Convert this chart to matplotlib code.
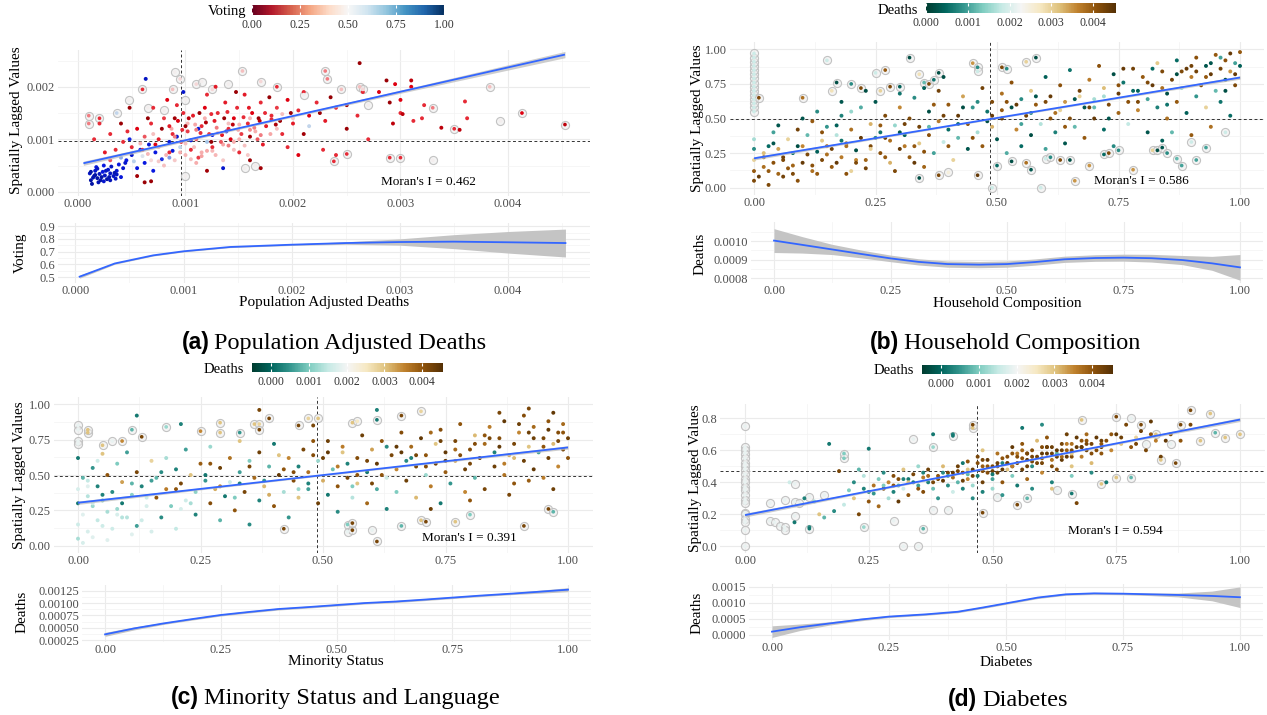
import numpy as np
import matplotlib
matplotlib.use("Agg")
import matplotlib.pyplot as plt
from matplotlib.colors import LinearSegmentedColormap, Normalize
from matplotlib.cm import ScalarMappable
from matplotlib.ticker import FormatStrFormatter

plt.rcParams['font.family'] = ['Liberation Serif', 'DejaVu Serif']

# ---------------- Panel (a): Population Adjusted Deaths, colour = Voting ----------------
a_x = [0.00012,0.00015,0.00018,0.00020,0.00022,0.00025,0.00027,0.00030,0.00016,0.00013,0.00019,0.00023,0.00028,0.00033,0.00036,0.00011,0.00024,0.00031,0.00038,0.00042,0.00017,0.00021,0.00029,0.00014,0.00035,
       0.00045,0.00050,0.00058,0.00062,0.00066,0.00072,0.00078,0.00085,0.00092,0.00105,0.00112,0.00125,0.00138,0.00063,0.00098,0.00070,0.00048,0.00055,0.00088,0.00135,
       0.00040,0.00052,0.00060,0.00068,0.00075,0.00082,0.00090,0.00095,0.00100,0.00108,0.00115,0.00120,0.00128,0.00135,0.00145,0.00150,0.00158,0.00165,0.00080,0.00110,0.00058,0.00070,0.00087,0.00102,0.00118,0.00140,0.00160,0.00185,0.00200,0.00215,
       0.00050,0.00055,0.00062,0.00068,0.00075,0.00080,0.00088,0.00093,0.00098,0.00102,
       0.00107,0.00110,0.00115,0.00118,0.00122,0.00127,0.00130,0.00133,0.00137,0.00140,
       0.00145,0.00148,0.00152,0.00155,0.00158,0.00162,0.00167,0.00170,0.00175,0.00180,
       0.00185,0.00190,0.00195,0.00200,0.00205,0.00210,0.00215,0.00222,0.00230,0.00240,
       0.00060,0.00072,0.00085,0.00096,0.00105,0.00112,0.00125,0.00142,0.00150,0.00172,
       0.00030,0.00035,0.00042,0.00025,0.00046,0.00070,0.00083,0.00092,0.00120,0.00128,
       0.00040,0.00048,0.00065,0.00078,0.00090,0.00100,0.00113,0.00124,0.00136,0.00147,0.00160,0.00168,0.00178,0.00188,0.00198,0.00210,0.00225,0.00235,0.00250,0.00055,0.00062,0.00068,0.00160,0.00170,0.00120,
       0.00260,0.00270,0.00280,0.00290,0.00300,0.00310,0.00320,0.00250,0.00265,0.00228,0.00195,0.00205,0.00240,0.00030,0.00015,0.00020,
       0.00262,0.00310,0.00287,0.00295,0.00355,0.00338,0.00360,0.00362,0.00302,0.00293,0.00312,0.00322,0.00300,
       0.00085,0.00090,0.00097,0.00103,0.00109,0.00114,0.00119,0.00124,0.00129,0.00134,
       0.00139,0.00144,0.00149,0.00154,0.00159,0.00164,0.00169,0.00174,0.00179,0.00184,
       0.00100,0.00110,0.00120,0.00130,0.00140,0.00150,0.00160,0.00170,0.00180,0.00190,
       0.00012,0.00018,0.00024,0.00030,0.00036,0.00040,0.00016,0.00026,0.00034,0.00044,
       0.00065,0.00075,0.00085,0.00095,0.00105,0.00115,0.00125,0.00135,0.00145,0.00155]
a_y = [0.00022,0.00030,0.00026,0.00034,0.00028,0.00031,0.00024,0.00035,0.00040,0.00015,0.00018,0.00038,0.00042,0.00030,0.00040,0.00035,0.00050,0.00048,0.00052,0.00045,0.00047,0.00022,0.00028,0.00027,0.00025,
       0.00060,0.00070,0.00080,0.00055,0.00090,0.00075,0.00062,0.00095,0.00105,0.00098,0.00120,0.00108,0.00115,0.00215,0.00190,0.00040,0.00100,0.00045,0.00078,0.00045,
       0.00065,0.00058,0.00068,0.00060,0.00085,0.00070,0.00060,0.00085,0.00070,0.00085,0.00075,0.00095,0.00070,0.00090,0.00080,0.00100,0.00070,0.00115,0.00050,0.00055,0.00092,0.00110,0.00120,0.00130,0.00140,0.00130,0.00140,0.00120,0.00140,0.00125,
       0.00085,0.00120,0.00105,0.00130,0.00100,0.00140,0.00110,0.00135,0.00150,0.00115,
       0.00145,0.00100,0.00125,0.00160,0.00110,0.00135,0.00150,0.00095,0.00170,0.00120,
       0.00140,0.00160,0.00110,0.00185,0.00130,0.00150,0.00100,0.00170,0.00125,0.00145,
       0.00160,0.00110,0.00175,0.00130,0.00155,0.00190,0.00145,0.00170,0.00135,0.00160,
       0.00080,0.00090,0.00075,0.00095,0.00080,0.00065,0.00085,0.00100,0.00075,0.00090,
       0.00060,0.00080,0.00095,0.00075,0.00115,0.00160,0.00175,0.00165,0.00185,0.00200,
       0.00130,0.00160,0.00140,0.00120,0.00140,0.00125,0.00150,0.00095,0.00140,0.00190,0.00105,0.00140,0.00180,0.00135,0.00150,0.00110,0.00150,0.00180,0.00165,0.00030,0.00018,0.00020,0.00060,0.00045,0.00040,
       0.00145,0.00100,0.00190,0.00170,0.00150,0.00200,0.00140,0.00120,0.00190,0.00080,0.00085,0.00070,0.00070,0.00110,0.00100,0.00130,
       0.00245,0.00212,0.00212,0.00205,0.00118,0.00122,0.00172,0.00140,0.00148,0.00130,0.00135,0.00165,0.00175,
       0.00125,0.00105,0.00118,0.00140,0.00128,0.00112,0.00132,0.00148,0.00122,0.00108,
       0.00152,0.00128,0.00118,0.00142,0.00160,0.00122,0.00135,0.00150,0.00110,0.00128,
       0.00092,0.00118,0.00078,0.00112,0.00088,0.00128,0.00118,0.00108,0.00138,0.00148,
       0.00038,0.00044,0.00020,0.00022,0.00033,0.00028,0.00032,0.00040,0.00036,0.00055,
       0.00072,0.00058,0.00065,0.00075,0.00062,0.00068,0.00078,0.00060,0.00095,0.00088]
a_voting = [0.95,0.9,0.95,0.9,0.95,0.9,0.95,0.9,0.88,0.95,0.92,0.85,0.88,0.9,0.87,0.9,0.85,0.9,0.85,0.88,0.86,0.95,0.93,0.93,0.9,
            0.85,0.88,0.86,0.85,0.87,0.85,0.82,0.86,0.88,0.85,0.86,0.84,0.85,0.9,0.88,0.85,0.83,0.85,0.86,0.88,
            0.68,0.62,0.55,0.45,0.40,0.38,0.42,0.60,0.38,0.40,0.36,0.65,0.38,0.35,0.40,0.37,0.42,0.36,0.40,0.36,0.38,0.40,0.35,0.38,0.36,0.40,0.38,0.40,0.42,0.60,
            0.2,0.15,0.25,0.2,0.18,0.22,0.2,0.15,0.2,0.22,
            0.18,0.25,0.2,0.15,0.22,0.18,0.2,0.25,0.18,0.2,
            0.15,0.2,0.22,0.18,0.2,0.15,0.25,0.2,0.18,0.2,
            0.22,0.2,0.15,0.18,0.2,0.2,0.15,0.2,0.18,0.2,
            0.2,0.15,0.2,0.18,0.2,0.22,0.2,0.15,0.2,0.18,
            0.25,0.2,0.2,0.18,0.2,0.2,0.15,0.2,0.2,0.18,
            0.05,0.05,0.04,0.05,0.06,0.05,0.05,0.04,0.05,0.05,0.06,0.05,0.04,0.05,0.05,0.06,0.05,0.04,0.05,0.06,0.05,0.05,0.05,0.06,0.06,
            0.2,0.2,0.15,0.05,0.2,0.15,0.2,0.05,0.2,0.2,0.2,0.15,0.2,0.2,0.2,0.2,
            0.05,0.1,0.05,0.15,0.1,0.1,0.2,0.2,0.1,0.1,0.2,0.2,0.15,
            0.18,0.3,0.2,0.1,0.35,0.2,0.08,0.2,0.3,0.18,
            0.2,0.1,0.35,0.2,0.18,0.3,0.1,0.2,0.35,0.08,
            0.4,0.3,0.35,0.42,0.3,0.38,0.32,0.3,0.2,0.4,
            0.95,0.9,0.88,0.92,0.9,0.86,0.95,0.9,0.93,0.88,
            0.38,0.42,0.7,0.36,0.4,0.34,0.38,0.42,0.36,0.4]
a_ring_x = [0.00010,0.00010,0.00020,0.00036,0.00047,0.00060,0.00065,0.00080,0.00088,0.00090,
            0.00095,0.00100,0.00110,0.00115,0.00125,0.00140,0.00153,0.00170,0.00185,0.00210,
            0.00230,0.00232,0.00245,0.00262,0.00265,0.00270,0.00290,0.00300,0.00330,0.00330,
            0.00350,0.00383,0.00393,0.00413,0.00453,0.00238,0.00250,0.00155,0.00165,0.00100]
a_ring_y = [0.00145,0.00130,0.00140,0.00150,0.00175,0.00195,0.00160,0.00155,0.00195,0.00228,
            0.00215,0.00175,0.00205,0.00210,0.00195,0.00205,0.00230,0.00210,0.00200,0.00185,
            0.00230,0.00215,0.00195,0.00200,0.00195,0.00165,0.00065,0.00065,0.00060,0.00160,
            0.00120,0.00200,0.00135,0.00150,0.00128,0.00058,0.00072,0.00045,0.00050,0.00030]
a_ring_voting = [0.3,0.3,0.2,0.6,0.5,0.2,0.5,0.5,0.4,0.5,
                 0.45,0.5,0.45,0.5,0.45,0.5,0.4,0.45,0.2,0.5,
                 0.3,0.3,0.4,0.4,0.45,0.5,0.2,0.2,0.5,0.3,
                 0.2,0.4,0.5,0.15,0.1,0.2,0.2,0.5,0.5,0.5]
a_fit = [0.00052, 0.462]            # intercept, slope of lagged-value fit
a_fit_x = [0.00005, 0.001, 0.002, 0.003, 0.004, 0.00453]
a_fit_hw = [0.00004, 0.000025, 0.00002, 0.00003, 0.00005, 0.00006]
a_mean_x, a_mean_y = 0.00096, 0.00096
a_smooth_x = [0.00004,0.000365,0.00072,0.001,0.00143,0.002,0.0025,0.003,0.0035,0.004,0.00453]
a_smooth_y = [0.503,0.607,0.671,0.703,0.737,0.755,0.768,0.776,0.779,0.774,0.768]
a_smooth_hw = [0.012,0.006,0.005,0.005,0.005,0.006,0.01,0.025,0.055,0.085,0.11]

# ---------------- Panel (b): Household Composition, colour = Deaths ----------------
b_x = [0.00,0.00,0.00,0.00,0.00,0.01,0.02,0.02,0.03,0.03,0.04,0.04,0.05,0.05,0.05,
       0.06,0.07,0.07,0.08,0.09,0.09,0.10,0.10,0.11,0.12,0.12,0.13,0.14,0.14,0.15,
       0.16,0.16,0.17,0.18,0.18,0.19,0.20,0.20,0.21,0.22,0.22,0.23,0.24,0.24,0.25,
       0.26,0.26,0.27,0.28,0.28,0.29,0.30,0.30,0.31,0.32,0.32,0.33,0.34,0.34,0.35,
       0.36,0.36,0.37,0.38,0.38,0.39,0.40,0.40,0.41,0.42,0.42,0.43,0.44,0.44,0.45,
       0.46,0.47,0.47,0.48,0.49,0.49,0.50,0.51,0.51,0.52,0.53,0.53,0.54,0.55,0.55,
       0.56,0.57,0.57,0.58,0.59,0.60,0.60,0.61,0.62,0.62,0.63,0.64,0.64,0.65,0.65,
       0.66,0.67,0.68,0.68,0.69,0.70,0.70,0.71,0.72,0.72,0.73,0.74,0.74,0.75,0.75,
       0.76,0.77,0.77,0.78,0.79,0.79,0.80,0.81,0.81,0.82,0.83,0.83,0.84,0.85,0.85,
       0.86,0.87,0.87,0.88,0.89,0.89,0.90,0.91,0.91,0.92,0.93,0.93,0.94,0.95,0.95,
       0.96,0.96,0.97,0.97,0.98,0.98,0.99,0.99,1.00,1.00,0.98,0.94,0.90,0.86,0.84,
       0.02,0.06,0.08,0.11,0.13,0.15,0.17,0.19,0.21,0.23,0.27,0.29,0.31,0.33,0.35,
       0.10,0.13,0.17,0.20,0.23,0.30,0.35,0.26,0.18,0.39,
       0.03,0.06,0.09,0.12,0.15,0.18,0.21,0.24,0.27,0.30,0.33,0.36,0.39,0.42,0.45,
       0.48,0.51,0.54,0.57,0.60,0.63,0.66,0.69,0.72,0.75,0.78,0.81,0.84,0.87,0.90,
       0.93,0.96,0.99,0.04,0.08,0.14,0.19,0.25,0.31,0.37,0.43,0.49,0.55,0.61,0.67,
       0.73,0.79,0.85,0.91,0.97,0.52,0.58,0.64,0.70,0.76,0.82,0.88,0.94,0.40,0.46]
b_y = [0.05,0.12,0.20,0.28,0.35,0.08,0.15,0.25,0.30,0.02,0.18,0.40,0.10,0.28,0.45,
       0.20,0.35,0.14,0.25,0.42,0.05,0.30,0.18,0.38,0.12,0.48,0.26,0.20,0.34,0.44,
       0.15,0.28,0.38,0.22,0.52,0.32,0.12,0.42,0.27,0.36,0.58,0.20,0.46,0.30,0.62,
       0.25,0.40,0.52,0.18,0.34,0.45,0.28,0.58,0.38,0.22,0.50,0.65,0.32,0.44,0.15,
       0.55,0.38,0.25,0.48,0.70,0.33,0.60,0.42,0.20,0.52,0.36,0.66,0.28,0.46,0.58,
       0.40,0.72,0.30,0.55,0.62,0.44,0.35,0.68,0.50,0.25,0.58,0.76,0.42,0.64,0.30,
       0.52,0.70,0.38,0.60,0.46,0.80,0.28,0.66,0.54,0.40,0.74,0.32,0.62,0.50,0.85,
       0.44,0.70,0.58,0.36,0.78,0.64,0.50,0.88,0.42,0.72,0.60,0.30,0.82,0.54,0.68,
       0.76,0.62,0.46,0.86,0.70,0.56,0.80,0.64,0.40,0.74,0.90,0.58,0.84,0.68,0.50,
       0.78,0.92,0.62,0.72,0.86,0.54,0.80,0.94,0.66,0.74,0.88,0.58,0.82,0.96,0.70,
       0.86,0.62,0.92,0.78,0.97,0.84,0.90,0.74,0.98,0.88,0.52,0.44,0.38,0.40,0.34,
       0.22,0.08,0.16,0.24,0.10,0.30,0.18,0.10,0.20,0.14,0.22,0.12,0.30,0.18,0.26,
       0.50,0.55,0.45,0.55,0.70,0.68,0.72,0.45,0.62,0.80,
       0.12,0.22,0.30,0.16,0.24,0.34,0.18,0.28,0.36,0.40,0.30,0.44,0.52,0.46,0.36,
       0.48,0.56,0.60,0.54,0.62,0.56,0.64,0.58,0.66,0.74,0.70,0.76,0.72,0.82,0.88,
       0.80,0.94,0.82,0.32,0.10,0.40,0.30,0.36,0.46,0.60,0.58,0.52,0.46,0.50,0.66,
       0.50,0.62,0.60,0.84,0.70,0.62,0.66,0.44,0.58,0.86,0.86,0.84,0.90,0.30,0.62]
b_deaths = [0.0042,0.0040,0.0030,0.0008,0.0016,0.0044,0.0038,0.0032,0.0005,0.0042,0.0041,0.0010,0.0039,0.0034,0.0003,
            0.0042,0.0030,0.0040,0.0006,0.0043,0.0041,0.0036,0.0044,0.0012,0.0038,0.0040,0.0004,0.0042,0.0031,0.0009,
            0.0040,0.0043,0.0017,0.0037,0.0007,0.0041,0.0030,0.0038,0.0002,0.0044,0.0011,0.0039,0.0033,0.0042,0.0003,
            0.0041,0.0006,0.0042,0.0033,0.0038,0.0015,0.0044,0.0036,0.0004,0.0040,0.0042,0.0008,0.0031,0.0043,0.0039,
            0.0002,0.0041,0.0010,0.0037,0.0043,0.0018,0.0040,0.0005,0.0030,0.0044,0.0012,0.0034,0.0003,0.0041,0.0009,
            0.0016,0.0043,0.0040,0.0006,0.0042,0.0033,0.0003,0.0038,0.0044,0.0011,0.0002,0.0041,0.0036,0.0008,0.0005,
            0.0043,0.0031,0.0002,0.0040,0.0017,0.0004,0.0010,0.0044,0.0038,0.0007,0.0041,0.0003,0.0035,0.0042,0.0006,
            0.0012,0.0043,0.0003,0.0040,0.0037,0.0016,0.0044,0.0041,0.0005,0.0032,0.0042,0.0008,0.0002,0.0039,0.0044,
            0.0006,0.0041,0.0018,0.0043,0.0004,0.0036,0.0040,0.0010,0.0003,0.0044,0.0031,0.0007,0.0042,0.0002,0.0038,
            0.0043,0.0005,0.0040,0.0016,0.0044,0.0004,0.0037,0.0041,0.0009,0.0042,0.0003,0.0030,0.0044,0.0040,0.0012,
            0.0043,0.0006,0.0041,0.0002,0.0044,0.0035,0.0010,0.0042,0.0040,0.0004,0.0005,0.0038,0.0040,0.0012,0.0004,
            0.0041,0.0043,0.0039,0.0042,0.0040,0.0038,0.0044,0.0041,0.0036,0.0043,0.0040,0.0042,0.0037,0.0044,0.0041,
            0.0003,0.0008,0.0004,0.0015,0.0002,0.0006,0.0004,0.0040,0.0003,0.0002,
            0.0040,0.0043,0.0002,0.0041,0.0038,0.0006,0.0042,0.0030,0.0044,0.0003,0.0040,0.0012,0.0043,0.0005,0.0041,
            0.0002,0.0040,0.0044,0.0008,0.0042,0.0030,0.0003,0.0043,0.0016,0.0041,0.0005,0.0042,0.0038,0.0002,0.0043,
            0.0040,0.0010,0.0044,0.0003,0.0042,0.0041,0.0038,0.0008,0.0043,0.0040,0.0002,0.0044,0.0010,0.0041,0.0030,
            0.0003,0.0042,0.0006,0.0043,0.0002,0.0041,0.0003,0.0040,0.0012,0.0044,0.0005,0.0042,0.0003,0.0040,0.0008]
b_ring_x = [0.00,0.00,0.00,0.00,0.00,0.00,0.00,0.00,0.00,0.00,0.00,0.00,0.00,0.00,0.00,
            0.01,0.10,0.15,0.16,0.17,0.20,0.22,0.25,0.26,0.27,0.28,0.30,0.32,0.34,0.35,0.36,0.37,0.38,0.45,0.46,0.46,0.51,0.52,0.56,0.58,
            0.34,0.38,0.40,0.46,0.49,0.50,0.53,0.56,0.57,0.59,0.60,0.61,0.63,0.65,0.69,0.72,0.73,0.75,0.78,0.82,0.83,0.84,0.85,0.87,0.88,0.90,0.91,0.93,0.97,0.66]
b_ring_y = [0.55,0.58,0.61,0.64,0.67,0.70,0.73,0.76,0.79,0.82,0.85,0.88,0.91,0.94,0.97,
            0.65,0.65,0.92,0.70,0.76,0.75,0.72,0.83,0.70,0.85,0.73,0.73,0.94,0.82,0.76,0.75,0.78,0.83,0.90,0.87,0.84,0.87,0.86,0.91,0.94,
            0.07,0.09,0.11,0.09,0.00,0.16,0.19,0.18,0.13,0.00,0.21,0.22,0.20,0.20,0.16,0.24,0.25,0.27,0.13,0.27,0.27,0.29,0.25,0.21,0.16,0.33,0.20,0.29,0.40,0.05]
b_ring_deaths = [0.0019,0.0019,0.0019,0.0019,0.0019,0.0019,0.0019,0.0019,0.0019,0.0019,0.0019,0.0019,0.0019,0.0019,0.0019,
                 0.0042,0.0038,0.0019,0.0028,0.0002,0.0008,0.0042,0.0019,0.0030,0.0040,0.0042,0.0004,0.0002,0.0028,0.0012,0.0042,0.0006,0.0002,0.0035,0.0008,0.0019,0.0042,0.0008,0.0030,0.0002,
                 0.0002,0.0042,0.0025,0.0044,0.0019,0.0005,0.0002,0.0038,0.0003,0.0019,0.0019,0.0008,0.0042,0.0002,0.0035,0.0005,0.0042,0.0008,0.0035,0.0030,0.0002,0.0003,0.0008,0.0012,0.0010,0.0019,0.0010,0.0010,0.0019,0.0035]
b_fit = [0.212, 0.584]
b_fit_x = [0.0, 0.25, 0.5, 0.75, 1.0]
b_fit_hw = [0.012, 0.007, 0.005, 0.007, 0.012]
b_mean_x, b_mean_y = 0.486, 0.50
b_smooth_x = [0,0.06,0.124,0.19,0.25,0.31,0.372,0.44,0.5,0.56,0.623,0.69,0.75,0.81,0.876,0.94,1.0]
b_smooth_y = [0.001004,0.000981,0.000956,0.00093,0.000907,0.000888,0.000876,0.000873,0.000876,0.000887,0.000902,0.000909,0.000911,0.000908,0.000898,0.00088,0.000858]
b_smooth_hw = [0.000065,0.000045,0.000028,0.000021,0.000018,0.000017,0.000017,0.000017,0.000017,0.000017,0.000017,0.000018,0.000019,0.000021,0.000025,0.000038,0.00007]

# ---------------- Panel (c): Minority Status and Language ----------------
c_x = [0.00,0.00,0.00,0.00,0.00,0.01,0.01,0.02,0.02,0.03,0.03,0.04,0.04,0.05,0.05,
       0.06,0.06,0.07,0.07,0.08,0.09,0.09,0.10,0.10,0.11,0.12,0.12,0.13,0.14,0.15,
       0.16,0.16,0.17,0.18,0.18,0.19,0.20,0.20,0.21,0.22,0.22,0.23,0.24,0.24,0.25,
       0.26,0.27,0.27,0.28,0.29,0.29,0.30,0.31,0.31,0.32,0.33,0.33,0.34,0.35,0.35,
       0.36,0.37,0.37,0.38,0.39,0.40,0.40,0.41,0.42,0.43,0.43,0.44,0.45,0.45,0.46,
       0.47,0.47,0.48,0.49,0.49,0.50,0.51,0.51,0.52,0.53,0.53,0.54,0.55,0.55,0.56,
       0.57,0.57,0.58,0.59,0.59,0.60,0.61,0.61,0.62,0.63,0.63,0.64,0.65,0.65,0.66,
       0.67,0.67,0.68,0.69,0.69,0.70,0.71,0.71,0.72,0.73,0.73,0.74,0.74,0.75,0.75,
       0.76,0.77,0.77,0.78,0.79,0.79,0.80,0.81,0.81,0.82,0.83,0.83,0.84,0.85,0.85,
       0.86,0.87,0.87,0.88,0.89,0.89,0.90,0.91,0.91,0.92,0.93,0.93,0.94,0.95,0.95,
       0.96,0.96,0.97,0.97,0.98,0.98,0.99,0.99,1.00,1.00,0.97,0.92,0.88,0.80,0.72,
       0.01,0.03,0.05,0.06,0.08,0.11,0.13,0.15,0.02,0.04,0.12,0.21,0.37,0.48,0.61,0.86,0.92,
       0.02,0.05,0.08,0.11,0.14,0.17,0.20,0.23,0.26,0.29,0.32,0.35,0.38,0.41,0.44,
       0.47,0.50,0.53,0.56,0.59,0.62,0.65,0.68,0.71,0.74,0.77,0.80,0.83,0.86,0.89,
       0.92,0.95,0.98,0.03,0.09,0.15,0.21,0.27,0.33,0.39,0.45,0.51,0.57,0.63,0.69,
       0.75,0.81,0.87,0.93,0.99,0.60,0.66,0.72,0.78,0.84,0.90,0.96,0.54,0.48,0.42]
c_y = [0.05,0.15,0.30,0.40,0.62,0.48,0.22,0.35,0.10,0.55,0.28,0.42,0.18,0.65,0.32,
       0.50,0.24,0.38,0.12,0.58,0.30,0.45,0.20,0.66,0.36,0.52,0.14,0.42,0.28,0.60,
       0.34,0.48,0.20,0.62,0.40,0.28,0.54,0.12,0.44,0.68,0.32,0.50,0.22,0.38,0.58,
       0.46,0.30,0.70,0.40,0.18,0.55,0.35,0.62,0.45,0.25,0.52,0.74,0.38,0.60,0.15,
       0.48,0.32,0.66,0.42,0.56,0.28,0.72,0.50,0.38,0.62,0.20,0.46,0.56,0.34,0.68,
       0.40,0.52,0.74,0.30,0.60,0.46,0.36,0.66,0.54,0.42,0.24,0.70,0.48,0.58,0.34,
       0.62,0.44,0.78,0.52,0.30,0.68,0.40,0.58,0.74,0.48,0.26,0.64,0.54,0.38,0.80,
       0.46,0.60,0.70,0.34,0.56,0.76,0.50,0.64,0.42,0.72,0.58,0.30,0.82,0.52,0.66,
       0.44,0.74,0.60,0.86,0.54,0.38,0.68,0.78,0.48,0.62,0.72,0.40,0.84,0.56,0.66,
       0.76,0.50,0.88,0.64,0.72,0.44,0.80,0.60,0.92,0.70,0.54,0.84,0.66,0.76,0.48,
       0.88,0.62,0.72,0.94,0.80,0.56,0.68,0.86,0.76,0.62,0.40,0.46,0.36,0.32,0.26,
       0.02,0.06,0.14,0.04,0.22,0.08,0.18,0.10,0.42,0.60,0.92,0.86,0.96,0.85,0.96,0.94,0.97,
       0.46,0.36,0.26,0.44,0.34,0.52,0.40,0.30,0.50,0.42,0.34,0.56,0.46,0.64,0.52,
       0.44,0.62,0.56,0.42,0.60,0.50,0.70,0.62,0.56,0.74,0.68,0.58,0.78,0.70,0.62,
       0.80,0.70,0.74,0.30,0.20,0.46,0.26,0.58,0.44,0.36,0.40,0.74,0.50,0.70,0.64,
       0.60,0.72,0.58,0.76,0.80,0.44,0.66,0.80,0.64,0.76,0.86,0.82,0.66,0.64,0.54]
c_deaths = [0.0013,0.0016,0.0002,0.0017,0.0002,0.0008,0.0018,0.0014,0.0017,0.0005,0.0012,0.0003,0.0015,0.0030,0.0009,
            0.0040,0.0013,0.0004,0.0016,0.0010,0.0002,0.0033,0.0014,0.0006,0.0011,0.0042,0.0006,0.0003,0.0017,0.0028,
            0.0040,0.0008,0.0004,0.0013,0.0036,0.0010,0.0003,0.0015,0.0042,0.0006,0.0016,0.0030,0.0003,0.0011,0.0039,
            0.0005,0.0041,0.0012,0.0032,0.0008,0.0043,0.0002,0.0037,0.0016,0.0040,0.0006,0.0030,0.0042,0.0010,0.0004,
            0.0038,0.0003,0.0043,0.0031,0.0008,0.0040,0.0002,0.0044,0.0013,0.0035,0.0005,0.0041,0.0003,0.0030,0.0042,
            0.0006,0.0037,0.0040,0.0043,0.0012,0.0032,0.0002,0.0044,0.0009,0.0040,0.0004,0.0036,0.0042,0.0003,0.0014,
            0.0041,0.0030,0.0043,0.0002,0.0038,0.0033,0.0007,0.0044,0.0040,0.0016,0.0003,0.0042,0.0035,0.0010,0.0041,
            0.0043,0.0004,0.0038,0.0031,0.0042,0.0044,0.0012,0.0040,0.0036,0.0030,0.0043,0.0002,0.0041,0.0039,0.0044,
            0.0005,0.0042,0.0033,0.0040,0.0043,0.0035,0.0041,0.0031,0.0008,0.0044,0.0038,0.0042,0.0036,0.0043,0.0003,
            0.0041,0.0037,0.0044,0.0032,0.0042,0.0040,0.0035,0.0043,0.0041,0.0030,0.0044,0.0038,0.0006,0.0042,0.0036,
            0.0040,0.0043,0.0031,0.0044,0.0041,0.0035,0.0042,0.0038,0.0043,0.0040,0.0043,0.0039,0.0042,0.0040,0.0043,
            0.0017,0.0018,0.0016,0.0018,0.0017,0.0018,0.0016,0.0017,0.0018,0.0016,0.0002,0.0003,0.0042,0.0042,0.0003,0.0042,0.0042,
            0.0015,0.0003,0.0012,0.0008,0.0016,0.0004,0.0040,0.0013,0.0002,0.0035,0.0010,0.0042,0.0005,0.0030,0.0041,
            0.0003,0.0043,0.0036,0.0010,0.0042,0.0040,0.0044,0.0003,0.0041,0.0043,0.0038,0.0042,0.0040,0.0044,0.0031,
            0.0043,0.0040,0.0042,0.0016,0.0014,0.0006,0.0017,0.0040,0.0003,0.0032,0.0012,0.0043,0.0040,0.0004,0.0042,
            0.0044,0.0041,0.0036,0.0043,0.0040,0.0042,0.0044,0.0038,0.0041,0.0042,0.0043,0.0044,0.0030,0.0041,0.0040]
c_ring_x = [0.00,0.00,0.00,0.00,0.02,0.02,0.05,0.07,0.09,0.11,0.13,0.18,0.25,0.29,0.29,0.33,0.36,0.37,0.37,0.39,0.45,0.47,0.49,0.56,0.57,0.61,0.66,0.70,
            0.42,0.55,0.55,0.56,0.56,0.60,0.61,0.66,0.70,0.71,0.77,0.80,0.91,0.96,0.97]
c_ring_y = [0.85,0.82,0.74,0.72,0.80,0.82,0.71,0.74,0.74,0.82,0.77,0.84,0.81,0.87,0.80,0.80,0.86,0.86,0.82,0.90,0.85,0.90,0.90,0.87,0.88,0.89,0.92,0.95,
            0.12,0.15,0.10,0.11,0.16,0.11,0.03,0.14,0.18,0.17,0.17,0.22,0.14,0.26,0.24]
c_ring_deaths = [0.0019,0.0019,0.0019,0.0019,0.0030,0.0030,0.0030,0.0019,0.0035,0.0008,0.0042,0.0012,0.0035,0.0030,0.0030,0.0005,0.0030,0.0028,0.0042,0.0042,0.0042,0.0028,0.0030,0.0030,0.0025,0.0002,0.0042,0.0028,
                 0.0042,0.0010,0.0019,0.0042,0.0042,0.0019,0.0042,0.0008,0.0030,0.0042,0.0030,0.0010,0.0042,0.0042,0.0008]
c_fit = [0.304, 0.391]
c_fit_x = [0.0, 0.25, 0.5, 0.75, 1.0]
c_fit_hw = [0.012, 0.007, 0.005, 0.007, 0.012]
c_mean_x, c_mean_y = 0.488, 0.493
c_smooth_x = [0,0.063,0.126,0.19,0.25,0.31,0.374,0.44,0.5,0.56,0.626,0.69,0.75,0.81,0.878,0.94,1.0]
c_smooth_y = [0.00037,0.00049,0.00059,0.00068,0.00076,0.00082,0.00088,0.00092,0.00096,0.00100,0.00103,0.00107,0.00111,0.00115,0.00119,0.00123,0.00127]
c_smooth_hw = [0.00004,0.00003,0.00002,0.00002,0.00002,0.00002,0.00002,0.00002,0.00002,0.00002,0.00002,0.00002,0.00002,0.00002,0.00002,0.00003,0.00004]

# ---------------- Panel (d): Diabetes ----------------
d_x = [0.17,0.18,0.19,0.20,0.21,0.22,0.22,0.23,0.23,0.24,0.24,0.25,0.25,0.26,0.26,
       0.27,0.27,0.28,0.28,0.29,0.29,0.30,0.30,0.31,0.31,0.32,0.32,0.33,0.33,0.34,
       0.35,0.35,0.36,0.36,0.37,0.37,0.38,0.38,0.39,0.39,0.40,0.40,0.41,0.41,0.42,
       0.42,0.43,0.43,0.44,0.44,0.45,0.45,0.46,0.46,0.47,0.47,0.48,0.48,0.48,0.49,
       0.49,0.50,0.50,0.51,0.51,0.52,0.52,0.53,0.53,0.54,0.54,0.55,0.55,0.56,0.56,
       0.57,0.57,0.58,0.58,0.59,0.59,0.60,0.60,0.61,0.61,0.62,0.62,0.63,0.63,0.64,
       0.64,0.65,0.65,0.66,0.66,0.67,0.67,0.68,0.68,0.69,0.70,0.70,0.71,0.72,0.72,
       0.73,0.74,0.75,0.76,0.77,0.78,0.79,0.80,0.81,0.82,0.83,0.84,0.86,0.88,0.90,
       0.44,0.46,0.48,0.50,0.52,0.55,0.58,0.62,0.66,0.70,0.73,0.42,0.56,0.60,0.62,
       0.10,0.12,0.13,0.15,0.16,0.09,0.14,
       0.50,0.52,0.54,0.56,0.58,0.60,0.62,0.64,0.66,0.68,0.53,0.57,0.61,0.65,0.69,
       0.30,0.33,0.36,0.39,0.42,0.45,0.48,0.51,0.54,0.57,0.60,0.63,0.66,0.69,0.72,
       0.32,0.35,0.38,0.41,0.44,0.47,0.50,0.53,0.56,0.59,0.62,0.65,0.68,0.71,0.74,
       0.43,0.46,0.49,0.52,0.55,0.58,0.61,0.64,0.67,0.70,0.45,0.48,0.51,0.54,0.57,
       0.60,0.63,0.66,0.69,0.72,0.76,0.79,0.82,0.85,0.40,0.37,0.34,0.31,0.28,0.25]
d_y = [0.64,0.22,0.47,0.26,0.35,0.40,0.30,0.48,0.20,0.36,0.44,0.28,0.61,0.38,0.33,
       0.42,0.25,0.36,0.46,0.30,0.40,0.34,0.44,0.38,0.28,0.48,0.36,0.42,0.32,0.45,
       0.38,0.50,0.34,0.43,0.40,0.48,0.36,0.70,0.44,0.30,0.41,0.50,0.38,0.46,0.34,
       0.43,0.50,0.40,0.46,0.36,0.53,0.42,0.48,0.38,0.56,0.44,0.50,0.40,0.60,0.46,
       0.54,0.42,0.50,0.58,0.46,0.52,0.40,0.56,0.48,0.62,0.44,0.52,0.58,0.48,0.64,
       0.54,0.42,0.60,0.50,0.56,0.66,0.52,0.46,0.58,0.68,0.54,0.62,0.48,0.58,0.64,
       0.54,0.60,0.70,0.56,0.50,0.62,0.27,0.66,0.56,0.60,0.64,0.52,0.68,0.58,0.62,
       0.66,0.60,0.70,0.64,0.76,0.62,0.68,0.72,0.60,0.78,0.66,0.56,0.70,0.66,0.76,
       0.52,0.30,0.34,0.36,0.32,0.38,0.36,0.40,0.44,0.46,0.40,0.70,0.74,0.76,0.36,
       0.15,0.30,0.12,0.20,0.18,0.40,0.28,
       0.47,0.55,0.50,0.60,0.53,0.58,0.50,0.60,0.64,0.62,0.52,0.58,0.62,0.56,0.66,
       0.38,0.40,0.46,0.42,0.46,0.45,0.47,0.52,0.50,0.58,0.55,0.60,0.58,0.64,0.66,
       0.42,0.36,0.40,0.44,0.41,0.52,0.45,0.52,0.55,0.52,0.58,0.64,0.62,0.60,0.70,
       0.47,0.44,0.50,0.48,0.56,0.56,0.62,0.56,0.68,0.58,0.48,0.54,0.50,0.58,0.50,
       0.62,0.56,0.60,0.70,0.64,0.68,0.64,0.70,0.66,0.46,0.44,0.40,0.42,0.38,0.34]
d_deaths = [0.0002,0.0004,0.0042,0.0015,0.0010,0.0004,0.0030,0.0008,0.0042,0.0003,0.0014,0.0040,0.0002,0.0037,0.0005,
            0.0010,0.0038,0.0042,0.0004,0.0013,0.0035,0.0003,0.0041,0.0008,0.0044,0.0030,0.0016,0.0002,0.0040,0.0042,
            0.0006,0.0012,0.0041,0.0036,0.0003,0.0043,0.0009,0.0002,0.0040,0.0005,0.0044,0.0031,0.0004,0.0042,0.0016,
            0.0038,0.0043,0.0008,0.0041,0.0003,0.0040,0.0035,0.0044,0.0012,0.0042,0.0002,0.0039,0.0043,0.0030,0.0041,
            0.0044,0.0006,0.0042,0.0037,0.0043,0.0003,0.0040,0.0041,0.0030,0.0044,0.0010,0.0042,0.0036,0.0043,0.0040,
            0.0044,0.0038,0.0041,0.0004,0.0043,0.0031,0.0042,0.0035,0.0044,0.0040,0.0037,0.0043,0.0041,0.0008,0.0042,
            0.0044,0.0039,0.0043,0.0041,0.0030,0.0044,0.0042,0.0040,0.0036,0.0043,0.0042,0.0031,0.0044,0.0040,0.0043,
            0.0041,0.0035,0.0044,0.0030,0.0042,0.0040,0.0028,0.0043,0.0042,0.0044,0.0036,0.0043,0.0042,0.0040,0.0042,
            0.0002,0.0004,0.0003,0.0012,0.0005,0.0002,0.0004,0.0003,0.0010,0.0004,0.0002,0.0003,0.0002,0.0004,0.0030,
            0.0002,0.0003,0.0004,0.0030,0.0008,0.0016,0.0012,
            0.0043,0.0040,0.0044,0.0038,0.0042,0.0044,0.0041,0.0043,0.0037,0.0042,0.0035,0.0041,0.0043,0.0044,0.0040,
            0.0040,0.0030,0.0003,0.0042,0.0044,0.0008,0.0041,0.0043,0.0036,0.0042,0.0040,0.0044,0.0030,0.0042,0.0043,
            0.0003,0.0040,0.0042,0.0006,0.0043,0.0041,0.0002,0.0044,0.0040,0.0042,0.0043,0.0036,0.0044,0.0041,0.0040,
            0.0042,0.0043,0.0040,0.0044,0.0041,0.0042,0.0043,0.0038,0.0044,0.0041,0.0030,0.0042,0.0044,0.0040,0.0043,
            0.0041,0.0044,0.0042,0.0038,0.0040,0.0043,0.0042,0.0040,0.0044,0.0004,0.0038,0.0002,0.0041,0.0010,0.0003]
d_ring_x = [0.00,0.00,0.00,0.00,0.00,0.00,0.00,0.00,0.00,0.00,0.00,0.00,0.00,0.00,0.00,0.00,0.00,0.00,0.00,0.00,0.00,0.00,
            0.05,0.05,0.06,0.07,0.08,0.08,0.08,0.10,0.10,0.10,0.11,0.13,0.13,0.16,0.20,0.20,0.24,0.30,0.32,0.35,
            0.36,0.38,0.41,0.34,0.38,0.42,0.46,0.46,0.48,0.51,0.55,0.57,0.63,0.66,0.68,0.72,0.75,0.78,0.80,0.81,
            0.83,0.84,0.86,0.87,0.90,0.92,0.94,0.95,0.97,1.00,0.88,0.78,0.75]
d_ring_y = [0.75,0.62,0.60,0.58,0.55,0.52,0.50,0.48,0.45,0.42,0.40,0.37,0.35,0.32,0.29,0.27,0.21,0.20,0.17,0.15,0.10,0.00,
            0.16,0.27,0.15,0.13,0.29,0.12,0.10,0.19,0.39,0.28,0.27,0.31,0.11,0.32,0.55,0.58,0.12,0.16,0.00,0.00,
            0.11,0.23,0.23,0.67,0.62,0.69,0.74,0.76,0.21,0.31,0.26,0.30,0.35,0.33,0.79,0.39,0.81,0.80,0.76,0.64,
            0.70,0.54,0.64,0.52,0.85,0.66,0.83,0.71,0.68,0.70,0.76,0.43,0.43]
d_ring_deaths = [0.0019,0.0019,0.0019,0.0019,0.0019,0.0019,0.0019,0.0019,0.0019,0.0019,0.0019,0.0019,0.0019,0.0019,0.0019,0.0019,0.0019,0.0019,0.0019,0.0019,0.0019,0.0019,
                 0.0019,0.0019,0.0019,0.0019,0.0019,0.0019,0.0019,0.0019,0.0019,0.0019,0.0019,0.0019,0.0002,0.0019,0.0010,0.0010,0.0012,0.0019,0.0019,0.0019,
                 0.0008,0.0019,0.0019,0.0019,0.0012,0.0002,0.0030,0.0042,0.0042,0.0019,0.0042,0.0008,0.0019,0.0002,0.0030,0.0030,0.0042,0.0019,0.0042,0.0019,
                 0.0030,0.0030,0.0019,0.0042,0.0042,0.0030,0.0030,0.0008,0.0030,0.0030,0.0042,0.0008,0.0030]
d_fit = [0.195, 0.597]
d_fit_x = [0.0, 0.25, 0.5, 0.75, 1.0]
d_fit_hw = [0.012, 0.006, 0.004, 0.006, 0.012]
d_mean_x, d_mean_y = 0.468, 0.473
d_smooth_x = [0,0.06,0.124,0.19,0.25,0.329,0.397,0.45,0.5,0.568,0.628,0.688,0.75,0.81,0.868,0.94,1.0]
d_smooth_y = [0.000104,0.00024,0.00036,0.00048,0.00057,0.00064,0.00072,0.00085,0.00098,0.00116,0.00126,0.00129,0.00128,0.00126,0.00124,0.00121,0.00117]
d_smooth_hw = [0.00018,0.0001,0.00005,0.00004,0.00003,0.00003,0.00003,0.00003,0.00003,0.00003,0.00003,0.00003,0.00003,0.00004,0.00006,0.00015,0.00032]

# ---------------- colour scales ----------------
voting_bar_cmap = plt.get_cmap('RdBu')
voting_pt_cmap = LinearSegmentedColormap.from_list('vote_pts', [
    (0.0, '#7a0000'), (0.15, '#e00010'), (0.35, '#f6a8a8'), (0.5, '#f4eeee'),
    (0.65, '#a9c9e9'), (0.85, '#0818e0'), (1.0, '#00108a')])
deaths_cmap = plt.get_cmap('BrBG_r')

# ---------------- figure helpers ----------------
W, H = 1267, 715
fig = plt.figure(figsize=(W / 100, H / 100), dpi=100)
fig.patch.set_facecolor('white')


def rect(l, t, r, b):
    return [l / W, 1 - b / H, (r - l) / W, (b - t) / H]


def minors(major, lo, hi):
    step = major[1] - major[0]
    cand = [m - step / 2 for m in major] + [major[-1] + step / 2]
    return [c for c in cand if lo <= c <= hi]


def style_axes(ax, xlim, ylim, xt, yt, xf, yf):
    ax.set_xlim(*xlim)
    ax.set_ylim(*ylim)
    ax.set_xticks(xt)
    ax.set_yticks(yt)
    ax.set_xticks(minors(xt, *xlim), minor=True)
    ax.set_yticks(minors(yt, *ylim), minor=True)
    ax.xaxis.set_major_formatter(FormatStrFormatter(xf))
    ax.yaxis.set_major_formatter(FormatStrFormatter(yf))
    ax.grid(True, which='major', color='#ebebeb', lw=0.8)
    ax.grid(True, which='minor', color='#f3f3f3', lw=0.5)
    ax.tick_params(which='both', length=0)
    ax.tick_params(axis='x', pad=1.5, labelsize=9, labelcolor='#4d4d4d')
    ax.tick_params(axis='y', pad=2, labelsize=9, labelcolor='#4d4d4d')
    for s in ax.spines.values():
        s.set_visible(False)
    ax.set_axisbelow(True)
    ax.patch.set_alpha(0)


def n3(*arrs):
    n = min(len(a) for a in arrs)
    return [np.asarray(a[:n], float) for a in arrs]


def scatter_panel(box, xs, ys, vs, rx, ry, rv, cmap, norm, xlim, ylim, xt, yt, xf, yf,
                  fit, fx, fhw, mx, my, moran, mpos):
    ax = fig.add_axes(rect(*box))
    style_axes(ax, xlim, ylim, xt, yt, xf, yf)
    ax.axvline(mx, color='#333333', lw=0.7, ls=(0, (3, 2.5)), zorder=2)
    ax.axhline(my, color='#333333', lw=0.7, ls=(0, (3, 2.5)), zorder=2)
    xs, ys, vs = n3(xs, ys, vs)
    rx, ry, rv = n3(rx, ry, rv)
    ax.scatter(rx, ry, s=34, facecolors=(0.92, 0.92, 0.92, 0.5), edgecolors='#c2c2c2',
               linewidths=0.8, zorder=3)
    ax.scatter(xs, ys, c=vs, cmap=cmap, norm=norm, s=8, linewidths=0, zorder=4)
    ax.scatter(rx, ry, c=rv, cmap=cmap, norm=norm, s=7, linewidths=0, zorder=4)
    fx = np.asarray(fx, float)
    fy = fit[0] + fit[1] * fx
    hw = np.asarray(fhw, float)
    ax.fill_between(fx, fy - hw, fy + hw, color='#bdbdbd', alpha=0.75, lw=0, zorder=5)
    ax.plot(fx, fy, color='#3366FF', lw=1.3, zorder=6, solid_capstyle='butt')
    ax.text(mpos[0], mpos[1], moran, ha='center', va='center', fontsize=9.5, zorder=7)
    return ax


def smooth_panel(box, sx, sy, shw, xlim, ylim, xt, yt, xf, yf):
    ax = fig.add_axes(rect(*box))
    style_axes(ax, xlim, ylim, xt, yt, xf, yf)
    sx, sy, shw = n3(sx, sy, shw)
    ax.fill_between(sx, sy - shw, sy + shw, color='#c4c4c4', lw=0, zorder=3)
    ax.plot(sx, sy, color='#3366FF', lw=1.3, zorder=4)
    return ax


def cbar(box, cmap, vmin, vmax, ticks, fmt, label, lab_x, lab_y):
    cax = fig.add_axes(rect(*box))
    sm = ScalarMappable(norm=Normalize(vmin, vmax), cmap=cmap)
    cb = fig.colorbar(sm, cax=cax, orientation='horizontal', ticks=ticks)
    cb.outline.set_visible(False)
    cax.xaxis.set_major_formatter(FormatStrFormatter(fmt))
    cax.minorticks_off()
    cax.tick_params(axis='x', which='major', direction='in', length=2, width=0.8,
                    color='white', top=True, bottom=True, labelsize=8.5,
                    labelcolor='#333333', pad=3)
    fig.text(lab_x / W, 1 - lab_y / H, label, ha='right', va='center', fontsize=10.5)


def axis_title(x, y, s, rot=0):
    fig.text(x / W, 1 - y / H, s, ha='center', va='center', rotation=rot, fontsize=11)


def caption(cx, base_y, tag, title):
    r = fig.canvas.get_renderer()
    t1 = fig.text(0, 1 - base_y / H, tag, fontfamily=['Liberation Sans', 'DejaVu Sans'],
                  fontweight='bold', fontsize=16.5, va='baseline')
    t2 = fig.text(0, 1 - base_y / H, title, fontsize=17.5, va='baseline')
    w1 = t1.get_window_extent(r).width
    w2 = t2.get_window_extent(r).width
    gap = 5
    x0 = cx - (w1 + gap + w2) / 2
    t1.set_x(x0 / W)
    t2.set_x((x0 + w1 + gap) / W)


unit = [0.0, 0.25, 0.5, 0.75, 1.0]
deaths_ticks = [0.0, 0.001, 0.002, 0.003, 0.004]

# ---------------- (a) ----------------
norm_a = Normalize(0, 1)
scatter_panel((58, 50, 590, 196), a_x, a_y, a_voting, a_ring_x, a_ring_y, a_ring_voting,
              voting_pt_cmap, norm_a, (-0.000186, 0.004763), (-0.00008, 0.0027),
              [0, 0.001, 0.002, 0.003, 0.004], [0, 0.001, 0.002], '%.3f', '%.3f',
              a_fit, a_fit_x, a_fit_hw, a_mean_x, a_mean_y, "Moran's I = 0.462", (0.00326, 0.00019))
smooth_panel((58, 223, 590, 283), a_smooth_x, a_smooth_y, a_smooth_hw,
             (-0.00016, 0.004757), (0.453, 0.926), [0, 0.001, 0.002, 0.003, 0.004],
             [0.5, 0.6, 0.7, 0.8, 0.9], '%.3f', '%.1f')
cbar((252, 5, 444, 15), voting_bar_cmap, 0, 1, unit, '%.2f', 'Voting', 246, 11)
axis_title(17, 120, 'Spatially Lagged Values', 90)
axis_title(20, 253, 'Voting', 90)
axis_title(324, 303, 'Population Adjusted Deaths')
caption(334, 349, '(a)', 'Population Adjusted Deaths')

# ---------------- (b) ----------------
norm_b = Normalize(0, 0.00455)
scatter_panel((729.7, 42.4, 1264.3, 194.6), b_x, b_y, b_deaths, b_ring_x, b_ring_y, b_ring_deaths,
              deaths_cmap, norm_b, (-0.05, 1.05), (-0.05, 1.05), unit, unit, '%.2f', '%.2f',
              b_fit, b_fit_x, b_fit_hw, b_mean_x, b_mean_y, "Moran's I = 0.586", (0.797, 0.048))
smooth_panel((750.7, 221.7, 1263.3, 282.6), b_smooth_x, b_smooth_y, b_smooth_hw,
             (-0.05, 1.05), (0.000775, 0.001107), unit, [0.0008, 0.0009, 0.0010], '%.2f', '%.4f')
cbar((926, 3, 1116, 13), deaths_cmap, 0, 0.00455, deaths_ticks, '%.3f', 'Deaths', 918, 10)
axis_title(697, 118, 'Spatially Lagged Values', 90)
axis_title(700, 254, 'Deaths', 90)
axis_title(1007, 304, 'Household Composition')
caption(1005, 349, '(b)', 'Household Composition')

# ---------------- (c) ----------------
norm_c = Normalize(-0.0005, 0.00455)
scatter_panel((53.5, 397.2, 592.5, 552.8), c_x, c_y, c_deaths, c_ring_x, c_ring_y, c_ring_deaths,
              deaths_cmap, norm_c, (-0.05, 1.05), (-0.05, 1.05), unit, unit, '%.2f', '%.2f',
              c_fit, c_fit_x, c_fit_hw, c_mean_x, c_mean_y, "Moran's I = 0.391", (0.799, 0.052))
smooth_panel((81.9, 585.2, 591.2, 642.3), c_smooth_x, c_smooth_y, c_smooth_hw,
             (-0.05, 1.05), (0.00021, 0.00136), unit,
             [0.00025, 0.0005, 0.00075, 0.001, 0.00125], '%.2f', '%.5f')
cbar((252, 363, 443, 372), deaths_cmap, -0.0005, 0.00455, deaths_ticks, '%.3f', 'Deaths', 244, 369)
axis_title(20, 475, 'Spatially Lagged Values', 90)
axis_title(22, 612, 'Deaths', 90)
axis_title(336, 661, 'Minority Status')
caption(335, 704, '(c)', 'Minority Status and Language')

# ---------------- (d) ----------------
norm_d = Normalize(-0.0005, 0.00455)
scatter_panel((720.25, 403.5, 1264.75, 553.1), d_x, d_y, d_deaths, d_ring_x, d_ring_y, d_ring_deaths,
              deaths_cmap, norm_d, (-0.05, 1.05), (-0.0425, 0.8925), unit,
              [0.0, 0.2, 0.4, 0.6, 0.8], '%.2f', '%.1f',
              d_fit, d_fit_x, d_fit_hw, d_mean_x, d_mean_y, "Moran's I = 0.594", (0.749, 0.098))
smooth_panel((748.6, 584, 1263.4, 640), d_smooth_x, d_smooth_y, d_smooth_hw,
             (-0.05, 1.05), (-0.000155, 0.00158), unit,
             [0.0, 0.0005, 0.001, 0.0015], '%.2f', '%.4f')
cbar((922, 365, 1113, 374), deaths_cmap, -0.0005, 0.00455, deaths_ticks, '%.3f', 'Deaths', 914, 371)
axis_title(695, 478, 'Spatially Lagged Values', 90)
axis_title(697, 613, 'Deaths', 90)
axis_title(1006, 662, 'Diabetes')
caption(1008, 706, '(d)', 'Diabetes')

fig.savefig('out.png', dpi=100, facecolor='white')
